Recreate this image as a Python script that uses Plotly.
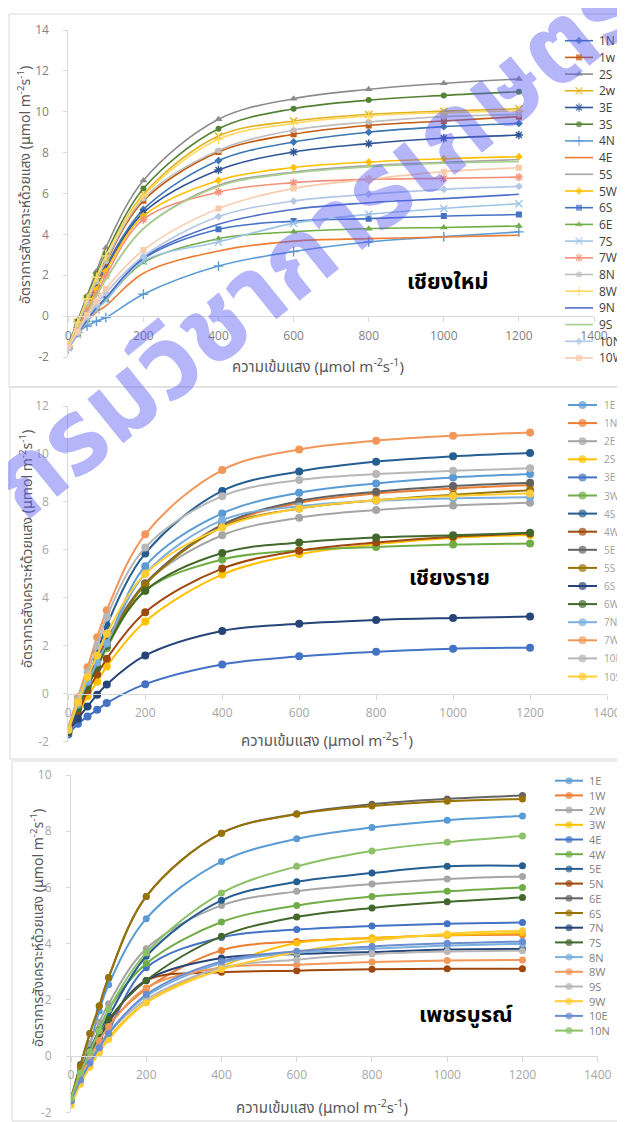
import plotly.graph_objects as go

W, H = 625, 1122      # screenshot size
OFF = 8               # page body margin around the plot div
FW, FH = W - OFF, H - OFF

# light intensity (µmol m-2 s-1)
X = [0, 25, 50, 75, 100, 200, 400, 600, 800, 1000, 1200]
X_TICKS = [0, 200, 400, 600, 800, 1000, 1200, 1400]
X_TICK_LABELS = ["0", "200", "400", "600", "800", "1000", "1200", "1400"]

# ---------------- Panel 1: เชียงใหม่ ----------------
cm_names = ["1N", "1w", "2S", "2w", "3E", "3S", "4N", "4E", "5S", "5W",
            "6S", "6E", "7S", "7W", "8N", "8W", "9N", "9S", "10N", "10W"]
cm_1N = [-1.50, -0.50, 0.50, 1.50, 2.45, 5.22, 7.61, 8.52, 9.00, 9.27, 9.43]
cm_1w = [-1.50, -0.45, 0.60, 1.60, 2.62, 5.64, 8.03, 8.90, 9.33, 9.55, 9.76]
cm_2S = [-1.40, -0.20, 1.00, 2.20, 3.35, 6.64, 9.63, 10.64, 11.10, 11.39, 11.60]
cm_2w = [-1.45, -0.30, 0.85, 1.95, 2.95, 5.96, 8.81, 9.55, 9.87, 10.03, 10.15]
cm_3E = [-1.50, -0.55, 0.40, 1.35, 2.30, 5.06, 7.15, 8.03, 8.44, 8.70, 8.86]
cm_3S = [-1.45, -0.25, 0.95, 2.05, 3.05, 6.24, 9.17, 10.15, 10.57, 10.80, 10.98]
cm_4N = [-1.60, -0.80, -0.48, -0.25, -0.07, 1.07, 2.45, 3.16, 3.63, 3.89, 4.12]
cm_4E = [-1.55, -0.85, -0.25, 0.20, 0.50, 2.10, 3.19, 3.67, 3.79, 3.87, 3.96]
cm_5S = [-1.50, -0.70, 0.10, 1.00, 1.80, 4.28, 6.40, 7.05, 7.36, 7.53, 7.66]
cm_5W = [-1.50, -0.60, 0.35, 1.30, 2.20, 4.90, 6.64, 7.27, 7.54, 7.70, 7.80]
cm_6S = [-1.55, -0.85, -0.15, 0.40, 0.85, 2.80, 4.25, 4.65, 4.77, 4.90, 4.97]
cm_6E = [-1.55, -0.90, -0.20, 0.35, 0.80, 2.62, 3.79, 4.13, 4.28, 4.34, 4.41]
cm_7S = [-1.55, -0.90, -0.25, 0.30, 0.75, 2.69, 3.63, 4.54, 4.98, 5.27, 5.50]
cm_7W = [-1.50, -0.65, 0.25, 1.10, 1.97, 4.73, 6.07, 6.53, 6.69, 6.74, 6.80]
cm_8N = [-1.45, -0.40, 0.65, 1.70, 2.69, 5.75, 8.11, 9.10, 9.50, 9.76, 9.87]
cm_8W = [-1.45, -0.30, 0.85, 1.90, 2.95, 5.88, 8.65, 9.43, 9.80, 9.95, 10.05]
cm_9N = [-1.55, -0.85, -0.20, 0.40, 0.90, 2.85, 4.49, 5.22, 5.55, 5.75, 5.96]
cm_9S = [-1.50, -0.70, 0.10, 1.00, 1.80, 4.28, 6.34, 7.00, 7.30, 7.48, 7.56]
cm_10N = [-1.55, -0.80, -0.05, 0.55, 1.14, 2.93, 4.87, 5.63, 5.96, 6.20, 6.35]
cm_10W = [-1.50, -0.75, 0.05, 0.70, 1.34, 3.23, 5.26, 6.25, 6.69, 7.07, 7.26]
cm_values = [cm_1N, cm_1w, cm_2S, cm_2w, cm_3E, cm_3S, cm_4N, cm_4E, cm_5S, cm_5W,
             cm_6S, cm_6E, cm_7S, cm_7W, cm_8N, cm_8W, cm_9N, cm_9S, cm_10N, cm_10W]

# ---------------- Panel 2: เชียงราย ----------------
cr_names = ["1E", "1N", "2E", "2S", "3E", "3W", "4S", "4W", "5E", "5S",
            "6S", "6W", "7N", "7W", "10N", "10S"]
cr_1E = [-1.50, -0.40, 0.55, 1.40, 2.10, 5.32, 7.52, 8.38, 8.77, 9.02, 9.16]
cr_1N = [-1.45, -0.35, 0.60, 1.50, 2.30, 4.60, 7.00, 7.96, 8.35, 8.56, 8.71]
cr_2E = [-1.50, -0.50, 0.40, 1.30, 2.10, 4.60, 6.61, 7.34, 7.66, 7.85, 7.96]
cr_2S = [-1.60, -0.90, -0.10, 0.50, 1.14, 3.01, 4.97, 5.82, 6.24, 6.50, 6.62]
cr_3E = [-1.70, -1.25, -0.95, -0.67, -0.39, 0.40, 1.22, 1.56, 1.75, 1.88, 1.92]
cr_3W = [-1.55, -0.60, 0.30, 1.10, 1.90, 4.30, 5.60, 5.98, 6.12, 6.22, 6.27]
cr_4S = [-1.50, -0.40, 0.60, 1.70, 2.85, 5.85, 8.46, 9.27, 9.68, 9.90, 10.04]
cr_4W = [-1.60, -0.80, 0.10, 0.80, 1.46, 3.40, 5.22, 5.96, 6.31, 6.55, 6.68]
cr_5E = [-1.50, -0.45, 0.50, 1.40, 2.20, 4.60, 7.05, 8.03, 8.42, 8.66, 8.80]
cr_5S = [-1.50, -0.50, 0.45, 1.35, 2.10, 4.55, 6.95, 7.73, 8.07, 8.30, 8.49]
cr_6S = [-1.60, -1.04, -0.53, -0.04, 0.39, 1.60, 2.62, 2.92, 3.08, 3.16, 3.22]
cr_6W = [-1.55, -0.60, 0.30, 1.10, 2.00, 4.30, 5.87, 6.31, 6.52, 6.61, 6.71]
cr_7N = [-1.50, -0.45, 0.50, 1.30, 2.10, 5.00, 7.24, 7.82, 8.05, 8.15, 8.19]
cr_7W = [-1.40, -0.15, 1.10, 2.36, 3.48, 6.65, 9.33, 10.19, 10.55, 10.76, 10.90]
cr_10N = [-1.50, -0.25, 0.90, 2.00, 3.20, 6.10, 8.24, 8.91, 9.16, 9.30, 9.40]
cr_10S = [-1.50, -0.35, 0.70, 1.60, 2.50, 5.00, 6.93, 7.73, 8.07, 8.25, 8.35]
cr_values = [cr_1E, cr_1N, cr_2E, cr_2S, cr_3E, cr_3W, cr_4S, cr_4W, cr_5E, cr_5S,
             cr_6S, cr_6W, cr_7N, cr_7W, cr_10N, cr_10S]

# ---------------- Panel 3: เพชรบูรณ์ ----------------
pb_names = ["1E", "1W", "2W", "3W", "4E", "4W", "5E", "5N", "6E", "6S",
            "7N", "7S", "8N", "8W", "9S", "9W", "10E", "10N"]
pb_1E = [-1.55, -0.60, 0.40, 1.60, 2.54, 4.89, 6.92, 7.73, 8.13, 8.39, 8.54]
pb_1W = [-1.60, -0.75, -0.05, 0.55, 1.10, 2.39, 3.76, 4.08, 4.20, 4.30, 4.32]
pb_2W = [-1.50, -0.50, 0.45, 1.20, 1.86, 3.82, 5.36, 5.86, 6.12, 6.30, 6.39]
pb_3W = [-1.70, -0.95, -0.35, 0.15, 0.65, 1.92, 3.20, 4.02, 4.20, 4.30, 4.38]
pb_4E = [-1.60, -0.85, -0.25, 0.30, 0.90, 3.14, 4.22, 4.50, 4.63, 4.71, 4.75]
pb_4W = [-1.50, -0.55, 0.20, 0.95, 1.66, 3.29, 4.77, 5.36, 5.68, 5.86, 6.00]
pb_5E = [-1.55, -0.60, 0.20, 0.90, 1.42, 3.55, 5.54, 6.20, 6.51, 6.75, 6.77]
pb_5N = [-1.60, -0.70, 0.00, 0.60, 1.20, 2.69, 2.98, 3.04, 3.09, 3.11, 3.11]
pb_6E = [-1.50, -0.30, 0.80, 1.78, 2.80, 5.68, 7.93, 8.62, 8.96, 9.15, 9.27]
pb_6S = [-1.50, -0.36, 0.80, 1.78, 2.80, 5.68, 7.93, 8.60, 8.90, 9.07, 9.15]
pb_7N = [-1.60, -0.70, 0.00, 0.60, 1.25, 2.69, 3.49, 3.63, 3.70, 3.79, 3.81]
pb_7S = [-1.55, -0.65, 0.10, 0.70, 1.30, 2.69, 4.26, 4.95, 5.27, 5.49, 5.64]
pb_8N = [-1.60, -0.80, -0.15, 0.35, 0.85, 2.13, 3.31, 3.67, 3.82, 3.93, 4.00]
pb_8W = [-1.60, -0.75, -0.05, 0.55, 1.05, 2.43, 3.15, 3.25, 3.35, 3.40, 3.42]
pb_9S = [-1.60, -0.80, -0.20, 0.30, 0.80, 2.01, 3.14, 3.43, 3.63, 3.72, 3.75]
pb_9W = [-1.75, -1.00, -0.40, 0.12, 0.59, 1.89, 3.08, 3.70, 4.10, 4.35, 4.46]
pb_10E = [-1.60, -0.85, -0.25, 0.30, 0.80, 2.19, 3.37, 3.73, 3.90, 4.01, 4.08]
pb_10N = [-1.50, -0.60, 0.15, 0.90, 1.66, 3.67, 5.80, 6.75, 7.30, 7.61, 7.83]
pb_values = [pb_1E, pb_1W, pb_2W, pb_3W, pb_4E, pb_4W, pb_5E, pb_5N, pb_6E, pb_6S,
             pb_7N, pb_7S, pb_8N, pb_8W, pb_9S, pb_9W, pb_10E, pb_10N]

# ---------------- styles ----------------
cm_colors = ["#3C78B4", "#C55A11", "#8C8C8C", "#E3B11B", "#2F5597", "#548235",
             "#5B9BD5", "#ED7D31", "#A5A5A5", "#FFC000", "#4472C4", "#70AD47",
             "#9DC3E6", "#F4917A", "#BFBFBF", "#FFD966", "#4F6FC8", "#A9D18E",
             "#B4C7E7", "#F8CBAD"]
cm_symbols = ["diamond", "square", "triangle-up", "x-thin-open", "asterisk-open",
              "circle", "cross-thin-open", None, None, "diamond", "square",
              "triangle-up", "x-thin-open", "asterisk-open", "circle",
              "cross-thin-open", None, None, "diamond", "square"]
office = ["#5B9BD5", "#ED7D31", "#A5A5A5", "#FFC000", "#4472C4", "#70AD47",
          "#255E91", "#9E480E", "#636363", "#997300", "#264478", "#43682B",
          "#7CAFDD", "#F1975A", "#B7B7B7", "#FFCD33", "#698ED0", "#8CC168"]

TH_FONT = "Tahoma, 'Noto Sans Thai', 'Leelawadee UI', 'DejaVu Sans', sans-serif"
NUM_FONT = "'Open Sans', 'Noto Sans', sans-serif"


def fx(px):
    """screen pixel x -> paper fraction"""
    return (px - OFF) / FW


def fy(py):
    """screen pixel y -> paper fraction"""
    return 1 - (py - OFF) / FH


panels = [
    dict(names=cm_names, values=cm_values, colors=cm_colors, symbols=cm_symbols,
         x0=68.3, x1=594.0, ytop=30.0, ybot=357.0, yr=(-2, 14), lw=1.6,
         box=(9, 14, 625, 387), title="เชียงใหม่", tpos=(448, 282),
         ytitle=(25, 185), xtitle=(318, 367), tickcol="#7F7F7F", titlecol="#595959",
         leg=dict(x0=565, x1=593, y0=40.7, dy=16.7, tx=597, fs=12, col="#404040", ms=6)),
    dict(names=cr_names, values=cr_values, colors=office[:16], symbols=["circle"] * 16,
         x0=68.3, x1=607.0, ytop=406.0, ybot=741.7, yr=(-2, 12), lw=2.0,
         box=(10, 387, 625, 759), title="เชียงราย", tpos=(449, 578),
         ytitle=(27, 549), xtitle=(327, 741), tickcol="#A6A6A6", titlecol="#595959",
         leg=dict(x0=568, x1=597, y0=405.0, dy=18.1, tx=602, fs=10, col="#A0A0A0", ms=8)),
    dict(names=pb_names, values=pb_values, colors=office[:18], symbols=["circle"] * 18,
         x0=71.0, x1=597.7, ytop=775.0, ybot=1112.3, yr=(-2, 10), lw=2.0,
         box=(12, 761, 625, 1121), title="เพชรบูรณ์", tpos=(466, 1015),
         ytitle=(38, 928), xtitle=(322, 1108), tickcol="#A6A6A6", titlecol="#595959",
         leg=dict(x0=555, x1=583, y0=780.7, dy=14.7, tx=587, fs=11, col="#7F7F7F", ms=7)),
]

fig = go.Figure()
annotations = []
shapes = []

for k, p in enumerate(panels, start=1):
    xa = "x" if k == 1 else f"x{k}"
    ya = "y" if k == 1 else f"y{k}"
    for name, vals, col, sym in zip(p["names"], p["values"], p["colors"], p["symbols"]):
        tr = dict(x=X, y=vals, name=name, xaxis=xa, yaxis=ya, showlegend=False,
                  line=dict(color=col, width=p["lw"], shape="spline", smoothing=1.0),
                  hoverinfo="name+x+y")
        if sym is None:
            tr["mode"] = "lines"
        else:
            size = p["leg"]["ms"] + (1 if ("triangle" in sym or "thin" in sym or "asterisk" in sym) else 0)
            tr["mode"] = "lines+markers"
            tr["marker"] = dict(symbol=sym, size=size, color=col,
                                line=dict(color=col, width=1.4 if "open" in sym else 0))
        fig.add_trace(go.Scatter(**tr))

    ymin, ymax = p["yr"]
    zero_py = p["ybot"] - (0 - ymin) / (ymax - ymin) * (p["ybot"] - p["ytop"])
    y_ticks = list(range(ymin, ymax + 1, 2))
    axis_common = dict(showgrid=False, zeroline=False, showline=True,
                       linecolor="#D9D9D9", linewidth=1, ticks="outside",
                       tickcolor="#D9D9D9", fixedrange=True, automargin=False)
    fig.update_layout(**{
        ("xaxis" if k == 1 else f"xaxis{k}"): dict(
            axis_common, domain=[fx(p["x0"]), fx(p["x1"])], range=[0, 1400],
            tickvals=X_TICKS, ticktext=X_TICK_LABELS, ticklen=5,
            anchor="free", position=fy(zero_py), ticklabelstandoff=3,
            tickfont=dict(family=NUM_FONT, size=12, color=p["tickcol"])),
        ("yaxis" if k == 1 else f"yaxis{k}"): dict(
            axis_common, domain=[fy(p["ybot"]), fy(p["ytop"])], range=[ymin, ymax],
            tickvals=y_ticks, ticktext=[str(v) for v in y_ticks], ticklen=4,
            anchor=xa, ticklabelstandoff=12,
            tickfont=dict(family=NUM_FONT, size=12, color=p["tickcol"])),
    })

    bx0, by0, bx1, by1 = p["box"]
    shapes.append(dict(type="rect", xref="paper", yref="paper",
                       x0=fx(bx0), x1=fx(bx1), y0=fy(by1), y1=fy(by0),
                       line=dict(color="#D9D9D9", width=1), fillcolor="rgba(0,0,0,0)",
                       layer="below"))

    # place name
    annotations.append(dict(text="<b>" + p["title"] + "</b>", x=fx(p["tpos"][0]), y=fy(p["tpos"][1]),
                            xref="paper", yref="paper", showarrow=False,
                            xanchor="center", yanchor="middle",
                            font=dict(family=TH_FONT, size=22, color="#000000")))
    # axis titles
    annotations.append(dict(text="อัตราการสังเคราะห์ด้วยแสง (µmol m<sup>-2</sup>s<sup>-1</sup>)",
                            x=fx(p["ytitle"][0]), y=fy(p["ytitle"][1]), xref="paper", yref="paper",
                            showarrow=False, textangle=-90, xanchor="center", yanchor="middle",
                            font=dict(family=TH_FONT, size=14, color=p["titlecol"])))
    annotations.append(dict(text="ความเข้มแสง (µmol m<sup>-2</sup>s<sup>-1</sup>)",
                            x=fx(p["xtitle"][0]), y=fy(p["xtitle"][1]), xref="paper", yref="paper",
                            showarrow=False, xanchor="center", yanchor="middle",
                            font=dict(family=TH_FONT, size=15, color=p["titlecol"])))

    # legend (drawn on a pixel-space overlay axis)
    lg = p["leg"]
    for i, (name, col, sym) in enumerate(zip(p["names"], p["colors"], p["symbols"])):
        yy = lg["y0"] + i * lg["dy"]
        xm = (lg["x0"] + lg["x1"]) / 2
        tr = dict(x=[lg["x0"], xm, lg["x1"]], y=[yy, yy, yy], xaxis="x4", yaxis="y4",
                  showlegend=False, hoverinfo="skip",
                  line=dict(color=col, width=p["lw"]))
        if sym is None:
            tr["mode"] = "lines"
        else:
            size = lg["ms"] + (1 if ("triangle" in sym or "thin" in sym or "asterisk" in sym) else 0)
            tr["mode"] = "lines+markers"
            tr["marker"] = dict(symbol=sym, size=[0, size, 0], color=col,
                                line=dict(color=col, width=1.4 if "open" in sym else 0))
        fig.add_trace(go.Scatter(**tr))
        annotations.append(dict(text=name, x=fx(lg["tx"]), y=fy(yy), xref="paper", yref="paper",
                                xanchor="left", yanchor="middle", showarrow=False,
                                font=dict(family=NUM_FONT, size=lg["fs"], color=lg["col"])))

# watermark
annotations.append(dict(text="<b>กรมวิชาการเกษตร</b>", x=fx(316), y=fy(246), xref="paper", yref="paper",
                        showarrow=False, textangle=-39, xanchor="center", yanchor="middle",
                        font=dict(family=TH_FONT, size=104, color="rgba(90,90,245,0.45)")))

fig.update_layout(
    xaxis4=dict(domain=[0, 1], range=[OFF, W], visible=False, fixedrange=True),
    yaxis4=dict(domain=[0, 1], range=[H, OFF], visible=False, fixedrange=True, anchor="x4"),
    width=FW, height=FH, autosize=False,
    margin=dict(l=0, r=0, t=0, b=0, pad=0, autoexpand=False),
    paper_bgcolor="#FFFFFF", plot_bgcolor="rgba(0,0,0,0)",
    showlegend=False, annotations=annotations, shapes=shapes,
    hovermode="closest",
)

fig.write_html("out.html")
